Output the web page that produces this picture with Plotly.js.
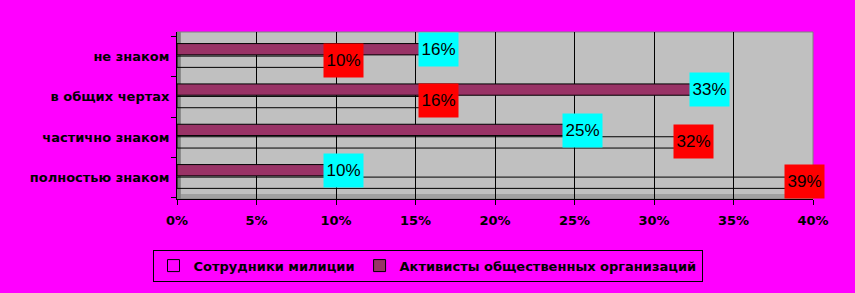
<!DOCTYPE html>
<html>
<head>
<meta charset="utf-8">
<script src="https://cdn.plot.ly/plotly-3.0.1.min.js"></script>
<style>
  html, body { margin: 0; padding: 0; background: #FF00FF; }
  #chart { width: 855px; height: 293px; }
</style>
</head>
<body>
<div id="chart"></div>
<script>
// Categories listed bottom-to-top as they appear on the vertical axis
const categories = ['полностью знаком', 'частично знаком', 'в общих чертах', 'не знаком'];
const seriesNames = ['Сотрудники милиции', 'Активисты общественных организаций'];
const police = [0.39, 0.32, 0.16, 0.10];
const activists = [0.10, 0.25, 0.33, 0.16];
const xTickValues = [0, 0.05, 0.10, 0.15, 0.20, 0.25, 0.30, 0.35, 0.40];
const xTickLabels = ['0%', '5%', '10%', '15%', '20%', '25%', '30%', '35%', '40%'];

const LABEL_FONT = 'Arial, "Liberation Sans", sans-serif';
const AXIS_FONT = '"DejaVu Sans", Verdana, sans-serif';

const tracePolice = {
  type: 'bar',
  orientation: 'h',
  name: seriesNames[0],
  y: categories,
  x: police,
  width: 0.28,
  offset: -0.27,
  marker: { color: 'rgba(255,255,255,0)', line: { color: '#000000', width: 1 } },
  hoverinfo: 'none'
};

const traceActivists = {
  type: 'bar',
  orientation: 'h',
  name: seriesNames[1],
  y: categories,
  x: activists,
  width: 0.28,
  offset: 0.04,
  marker: { color: '#993366', line: { color: '#000000', width: 1 } },
  hoverinfo: 'none'
};

function valueLabel(value, cat, bg, yshift) {
  return {
    x: value, y: cat, xref: 'x', yref: 'y',
    text: Math.round(value * 100) + '%',
    showarrow: false,
    xanchor: 'left', yanchor: 'middle',
    xshift: -13, yshift: yshift,
    width: 37, height: 31,
    bgcolor: bg,
    font: { family: LABEL_FONT, size: 17, color: '#000000' }
  };
}

const annotations = [];
categories.forEach((cat, i) => {
  annotations.push(valueLabel(police[i], cat, '#FF0000', -4));
  annotations.push(valueLabel(activists[i], cat, '#00FFFF', 7));
});

const axisFont = { family: AXIS_FONT, size: 13, color: '#000000', weight: 'bold' };

const layout = {
  width: 855,
  height: 293,
  paper_bgcolor: '#FF00FF',
  plot_bgcolor: '#C0C0C0',
  margin: { l: 177, r: 42, t: 32, b: 94, pad: 0 },
  barmode: 'overlay',
  showlegend: true,
  font: { family: AXIS_FONT, size: 13, color: '#000000' },
  xaxis: {
    range: [0, 0.40],
    tickvals: xTickValues,
    ticktext: xTickLabels,
    showgrid: true,
    gridcolor: '#000000',
    gridwidth: 1,
    zeroline: false,
    showline: true,
    linecolor: '#000000',
    linewidth: 1,
    ticks: 'outside',
    ticklen: 5,
    tickcolor: '#000000',
    ticklabelstandoff: 4,
    tickfont: axisFont,
    fixedrange: true
  },
  yaxis: {
    type: 'category',
    categoryorder: 'array',
    categoryarray: categories,
    showgrid: false,
    zeroline: false,
    showline: true,
    linecolor: '#000000',
    linewidth: 1,
    ticks: 'outside',
    tickson: 'boundaries',
    ticklen: 5,
    tickcolor: '#000000',
    ticklabelstandoff: 4,
    tickfont: axisFont,
    fixedrange: true
  },
  shapes: [
    // floor strip of the plot area
    { type: 'rect', xref: 'paper', yref: 'paper', x0: 0, x1: 1, y0: 0, y1: 0.03,
      fillcolor: '#A0A0A0', line: { width: 0 }, layer: 'below' },
    // left wall strip
    { type: 'rect', xref: 'paper', yref: 'paper', x0: 0, x1: 0.006, y0: 0, y1: 1,
      fillcolor: '#808080', line: { width: 0 }, layer: 'below' },
    // plot area outline
    { type: 'rect', xref: 'paper', yref: 'paper', x0: 0, x1: 1, y0: 0, y1: 1,
      fillcolor: 'rgba(0,0,0,0)', line: { color: '#808080', width: 1 }, layer: 'below' }
  ],
  legend: {
    orientation: 'h',
    xref: 'container', yref: 'container',
    x: 0.5, xanchor: 'center',
    y: 0.148, yanchor: 'top',
    bgcolor: '#FF00FF',
    bordercolor: '#000000',
    borderwidth: 1,
    itemwidth: 30,
    font: { family: AXIS_FONT, size: 13, color: '#000000', weight: 'bold' },
    traceorder: 'normal'
  },
  annotations: annotations
};

Plotly.newPlot('chart', [tracePolice, traceActivists], layout, { displayModeBar: false, staticPlot: true });
</script>
</body>
</html>
